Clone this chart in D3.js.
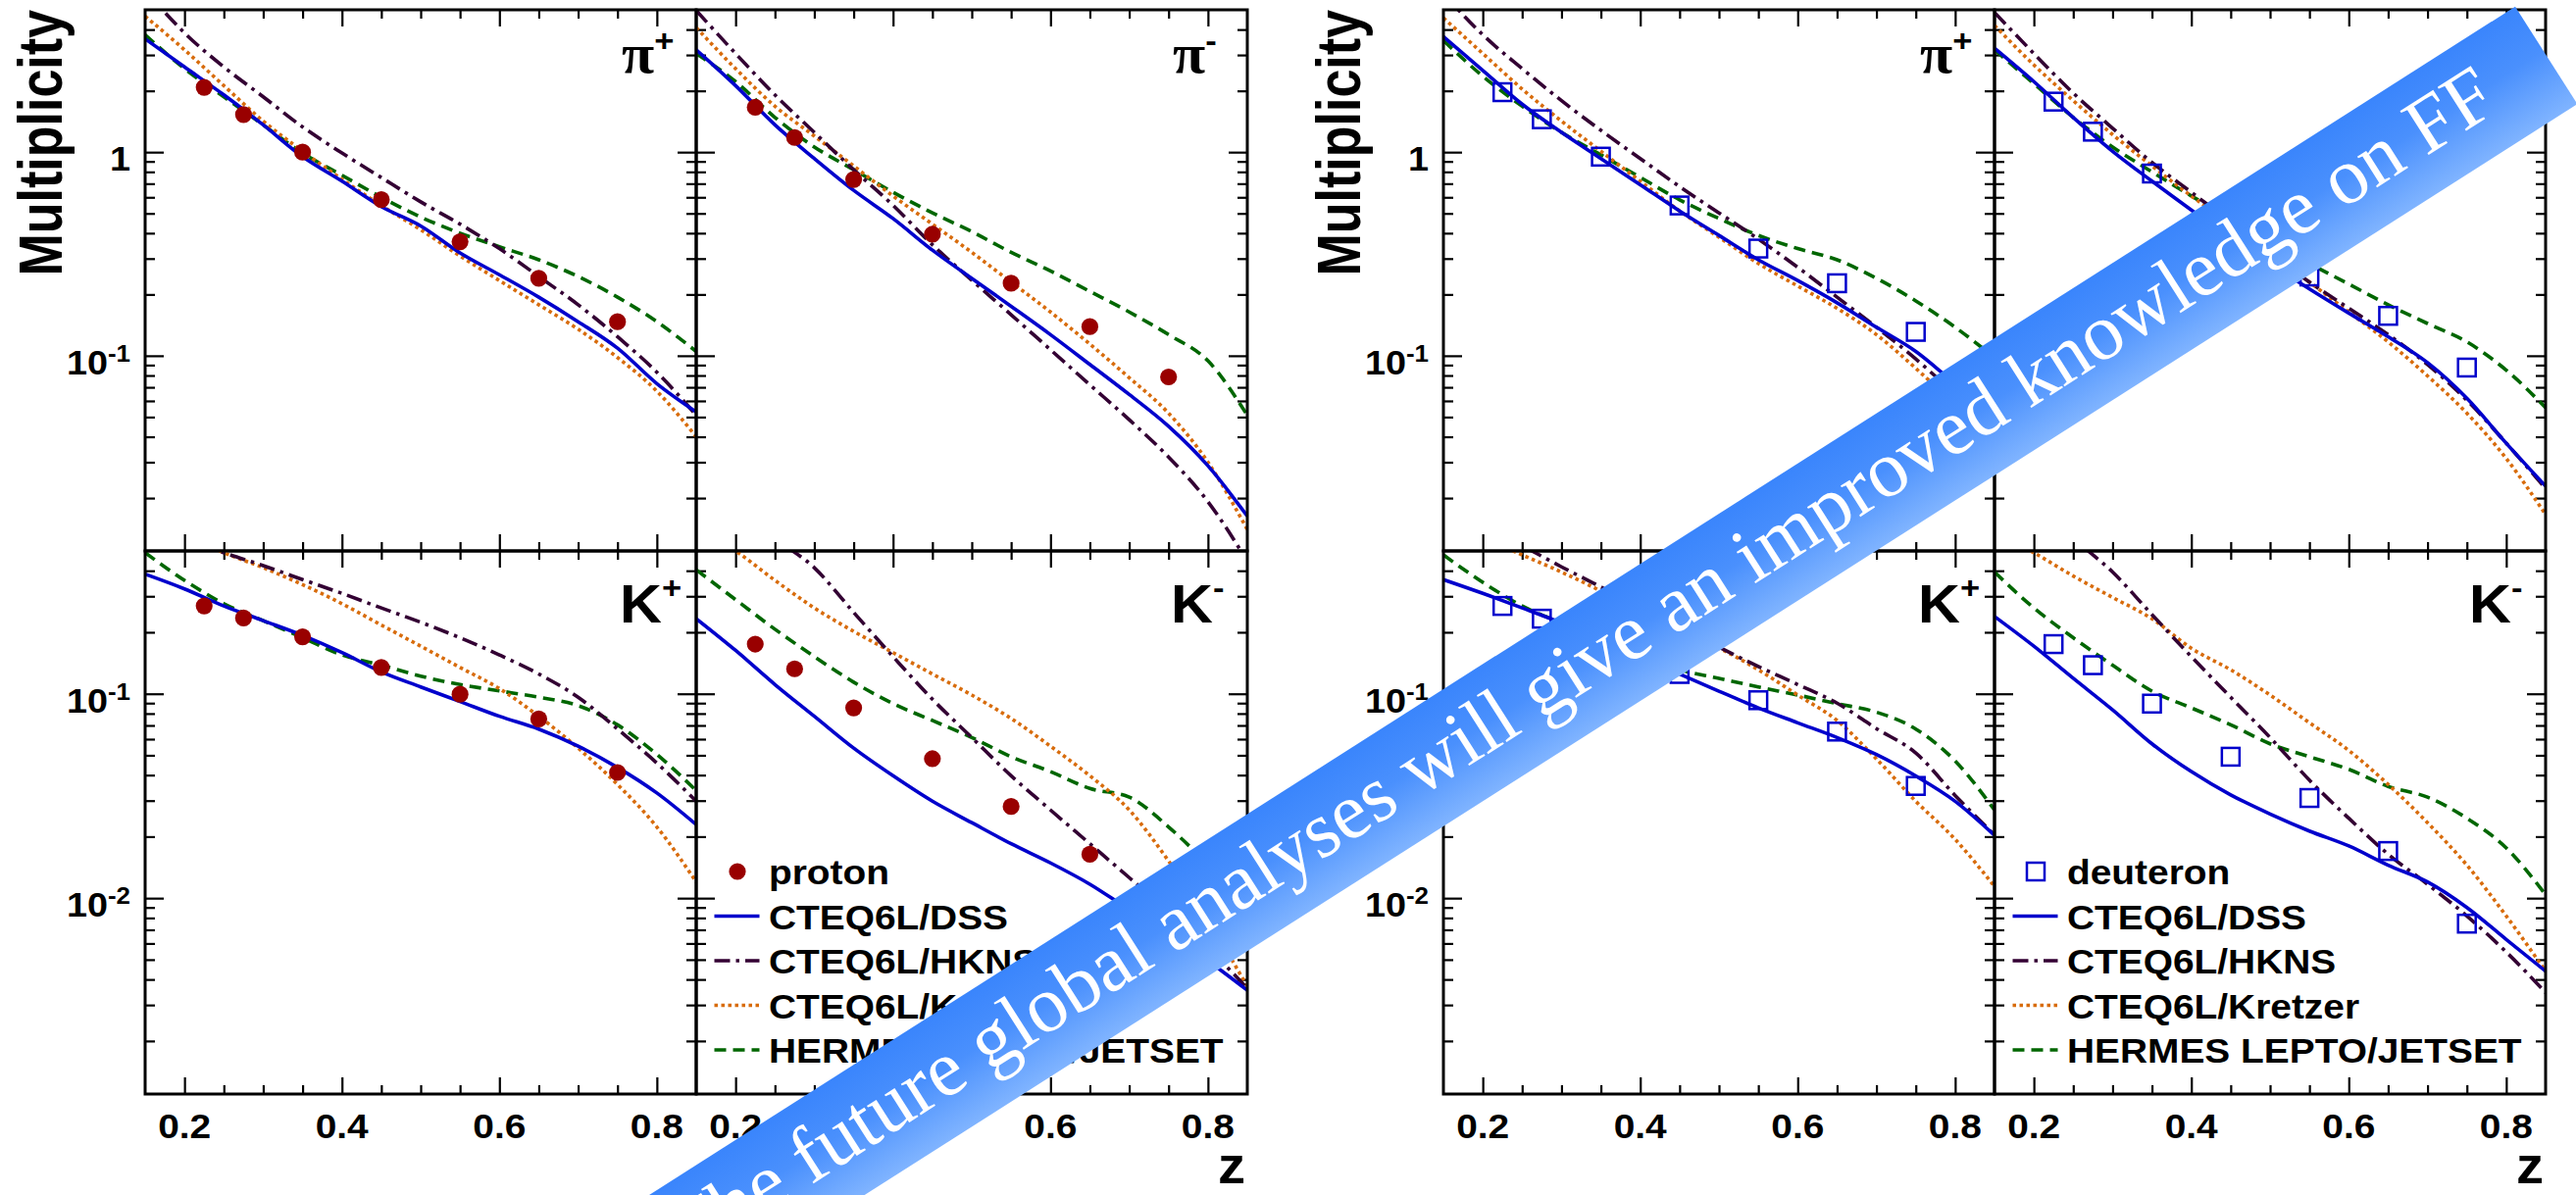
<!DOCTYPE html>
<meta charset="utf-8">
<style>
    body { margin: 0; background: #fff; }
    svg { display: block; }
    text {
        font-family: "Liberation Sans", Arial, sans-serif;
        font-weight: bold;
        fill: #000;
    }
    .axis path.domain { display: none; }
    .axis line { stroke: #000; stroke-width: 2.2; }
    .frame { fill: none; stroke: #000; stroke-width: 3; }
</style>

<svg width="2627" height="1219"></svg>

<script src="https://cdn.jsdelivr.net/npm/d3@7"></script>
<script>

    // DATA

    var zGrid = [0.15, 0.2, 0.25, 0.3, 0.35, 0.4, 0.45, 0.5, 0.55, 0.6, 0.65, 0.7, 0.75, 0.8, 0.85];
    var zBins = [0.225, 0.275, 0.35, 0.45, 0.55, 0.65, 0.75];

    var xMajorTicks = [0.2, 0.4, 0.6, 0.8];
    var xMinorTicks = [0.25, 0.3, 0.35, 0.45, 0.5, 0.55, 0.65, 0.7, 0.75];
    var xTickLabels = ["0.2", "0.4", "0.6", "0.8"];

    var legendNames = ["CTEQ6L/DSS", "CTEQ6L/HKNS", "CTEQ6L/Kretzer", "HERMES LEPTO/JETSET"];

    // proton, pi+
    var pPiPlus        = [2.08, 1.53, 1.0, 0.584, 0.363, 0.24, 0.147];
    var dssPPiPlus     = [3.6, 2.62, 1.91, 1.36, 0.95, 0.72, 0.54, 0.434, 0.32, 0.25, 0.194, 0.147, 0.109, 0.073, 0.053];
    var hknsPPiPlus    = [6.25, 3.85, 2.62, 1.87, 1.33, 0.99, 0.75, 0.57, 0.443, 0.336, 0.245, 0.178, 0.124, 0.083, 0.051];
    var kretzerPPiPlus = [4.65, 3.18, 2.12, 1.42, 1.01, 0.736, 0.547, 0.416, 0.309, 0.234, 0.178, 0.135, 0.098, 0.067, 0.040];
    var hermesPPiPlus  = [3.77, 2.57, 1.87, 1.36, 0.99, 0.77, 0.60, 0.48, 0.40, 0.343, 0.296, 0.245, 0.194, 0.147, 0.105];

    // proton, pi-
    var pPiMinus        = [1.66, 1.18, 0.734, 0.395, 0.227, 0.139, 0.0787];
    var dssPPiMinus     = [3.18, 2.12, 1.36, 0.93, 0.649, 0.472, 0.33, 0.24, 0.175, 0.127, 0.0906, 0.0645, 0.045, 0.0288, 0.0163];
    var hknsPPiMinus    = [4.96, 3.05, 1.91, 1.25, 0.82, 0.548, 0.351, 0.235, 0.159, 0.107, 0.072, 0.0485, 0.0318, 0.0192, 0.0098];
    var kretzerPPiMinus = [4.09, 2.57, 1.68, 1.2, 0.855, 0.609, 0.443, 0.322, 0.23, 0.164, 0.114, 0.078, 0.0522, 0.030, 0.014];
    var hermesPPiMinus  = [3.05, 2.22, 1.48, 1.06, 0.82, 0.635, 0.503, 0.407, 0.322, 0.261, 0.207, 0.164, 0.127, 0.0944, 0.051];

    // proton, K+
    var pKPlus        = [0.269, 0.235, 0.19, 0.1345, 0.0995, 0.0753, 0.0412];
    var dssPKPlus     = [0.385, 0.326, 0.269, 0.228, 0.193, 0.159, 0.128, 0.108, 0.0916, 0.0776, 0.0672, 0.0554, 0.0436, 0.0327, 0.0229];
    var hknsPKPlus    = [0.72, 0.58, 0.49, 0.424, 0.362, 0.31, 0.263, 0.224, 0.188, 0.155, 0.125, 0.0962, 0.0672, 0.0458, 0.0298];
    var kretzerPKPlus = [0.75, 0.6, 0.49, 0.414, 0.342, 0.276, 0.217, 0.171, 0.1345, 0.106, 0.0776, 0.0542, 0.036, 0.0223, 0.012];
    var hermesPKPlus  = [0.49, 0.359, 0.276, 0.228, 0.188, 0.155, 0.138, 0.122, 0.111, 0.1033, 0.0962, 0.0875, 0.0705, 0.0505, 0.0336];

    // proton, K-
    var pKMinus        = [0.175, 0.1325, 0.0853, 0.0481, 0.0281, 0.0164, 0.0097];
    var dssPKMinus     = [0.233, 0.163, 0.111, 0.0776, 0.0542, 0.0397, 0.0298, 0.0234, 0.01845, 0.01487, 0.0117, 0.00879, 0.00675, 0.00494, 0.00354];
    var hknsPKMinus    = [1.3, 0.9, 0.58, 0.414, 0.25, 0.152, 0.094, 0.0611, 0.0397, 0.027, 0.01845, 0.0126, 0.00857, 0.00571, 0.00362];
    var kretzerPKMinus = [0.65, 0.5, 0.359, 0.263, 0.202, 0.159, 0.125, 0.0986, 0.0757, 0.0554, 0.0397, 0.027, 0.0152, 0.0078, 0.0037];
    var hermesPKMinus  = [0.404, 0.289, 0.207, 0.152, 0.114, 0.0895, 0.074, 0.0611, 0.0492, 0.0416, 0.0344, 0.0312, 0.0223, 0.0145, 0.0086];

    // deuteron, pi+
    var dPiPlus        = [1.97, 1.45, 0.95, 0.547, 0.336, 0.227, 0.131];
    var dssDPiPlus     = [3.69, 2.52, 1.72, 1.25, 0.93, 0.692, 0.514, 0.39, 0.296, 0.234, 0.182, 0.138, 0.105, 0.073, 0.052];
    var hknsDPiPlus    = [6.0, 3.77, 2.57, 1.79, 1.28, 0.93, 0.677, 0.503, 0.374, 0.272, 0.194, 0.138, 0.0964, 0.0645, 0.042];
    var kretzerDPiPlus = [4.56, 3.05, 2.04, 1.42, 1.01, 0.72, 0.514, 0.382, 0.284, 0.22, 0.171, 0.127, 0.0867, 0.0568, 0.034];
    var hermesDPiPlus  = [3.53, 2.36, 1.68, 1.25, 0.97, 0.752, 0.583, 0.472, 0.39, 0.336, 0.296, 0.24, 0.186, 0.138, 0.098];

    // deuteron, pi-
    var dPiMinus        = [1.77, 1.26, 0.785, 0.43, 0.245, 0.157, 0.0875];
    var dssDPiMinus     = [3.24, 2.22, 1.48, 1.01, 0.72, 0.52, 0.38, 0.283, 0.213, 0.162, 0.124, 0.0925, 0.0618, 0.0372, 0.0229];
    var hknsDPiMinus    = [4.85, 3.05, 1.95, 1.31, 0.89, 0.635, 0.453, 0.322, 0.23, 0.171, 0.127, 0.0906, 0.0605, 0.0372, 0.0223];
    var kretzerDPiMinus = [4.19, 2.68, 1.79, 1.22, 0.855, 0.609, 0.443, 0.322, 0.23, 0.164, 0.117, 0.0796, 0.0522, 0.0313, 0.0166];
    var hermesDPiMinus  = [3.18, 2.17, 1.48, 1.06, 0.80, 0.609, 0.472, 0.366, 0.284, 0.225, 0.178, 0.144, 0.117, 0.085, 0.0556];

    // deuteron, K+
    var dKPlus        = [0.269, 0.233, 0.18, 0.125, 0.093, 0.0653, 0.0354];
    var dssDKPlus     = [0.362, 0.31, 0.263, 0.222, 0.184, 0.152, 0.125, 0.103, 0.0853, 0.0721, 0.0611, 0.0504, 0.0396, 0.0298, 0.0203];
    var hknsDKPlus    = [0.8, 0.66, 0.53, 0.418, 0.333, 0.266, 0.212, 0.169, 0.136, 0.111, 0.09, 0.0676, 0.0513, 0.0318, 0.0204];
    var kretzerDKPlus = [0.7, 0.58, 0.478, 0.394, 0.318, 0.25, 0.197, 0.167, 0.131, 0.0986, 0.074, 0.048, 0.0298, 0.0194, 0.0114];
    var hermesDKPlus  = [0.478, 0.351, 0.269, 0.222, 0.184, 0.152, 0.131, 0.119, 0.108, 0.0986, 0.0895, 0.0813, 0.0672, 0.0469, 0.027];

    // deuteron, K-
    var dKMinus        = [0.175, 0.138, 0.0895, 0.0492, 0.0309, 0.017, 0.0075];
    var dssDKMinus     = [0.239, 0.171, 0.119, 0.0834, 0.0569, 0.0416, 0.032, 0.0258, 0.0213, 0.018, 0.0145, 0.012, 0.009, 0.00628, 0.00439];
    var hknsDKMinus    = [1.3, 0.9, 0.578, 0.394, 0.244, 0.152, 0.0962, 0.0611, 0.0378, 0.0246, 0.0164, 0.0117, 0.00818, 0.00545, 0.00345];
    var kretzerDKMinus = [0.62, 0.49, 0.377, 0.296, 0.233, 0.167, 0.131, 0.0986, 0.0721, 0.0528, 0.036, 0.0234, 0.0145, 0.00818, 0.00439];
    var hermesDKMinus  = [0.394, 0.263, 0.188, 0.138, 0.103, 0.0853, 0.0705, 0.0569, 0.0492, 0.0427, 0.0352, 0.0312, 0.0246, 0.0176, 0.0104];

    // SETUP

    var svg = d3.select("svg"),
        defs = svg.append("defs"),
        SX = 1.08,                      // the source figure is a bit stretched horizontally
        panelW = 562,
        groupLeft = [148, 1472],
        rowTop = [10, 562],
        rowH = [552, 554],
        rowDomain = [[0.011, 5], [0.0011, 0.5]];

    var styles = [
        { color: "#0000cc", dash: null },          // DSS
        { color: "#330033", dash: "16,6,3.5,6" },  // HKNS
        { color: "#d86c0c", dash: "3.5,3.5" },     // Kretzer
        { color: "#006600", dash: "12,7" }         // HERMES
    ];

    var groups = [
        { name: "proton", marker: "circle", panels: [
            { label: "\u03c0", sign: "+", data: pPiPlus,  curves: [dssPPiPlus, hknsPPiPlus, kretzerPPiPlus, hermesPPiPlus] },
            { label: "\u03c0", sign: "-", data: pPiMinus, curves: [dssPPiMinus, hknsPPiMinus, kretzerPPiMinus, hermesPPiMinus] },
            { label: "K", sign: "+", data: pKPlus,  curves: [dssPKPlus, hknsPKPlus, kretzerPKPlus, hermesPKPlus] },
            { label: "K", sign: "-", data: pKMinus, curves: [dssPKMinus, hknsPKMinus, kretzerPKMinus, hermesPKMinus] }
        ]},
        { name: "deuteron", marker: "square", panels: [
            { label: "\u03c0", sign: "+", data: dPiPlus,  curves: [dssDPiPlus, hknsDPiPlus, kretzerDPiPlus, hermesDPiPlus] },
            { label: "\u03c0", sign: "-", data: dPiMinus, curves: [dssDPiMinus, hknsDPiMinus, kretzerDPiMinus, hermesDPiMinus] },
            { label: "K", sign: "+", data: dKPlus,  curves: [dssDKPlus, hknsDKPlus, kretzerDKPlus, hermesDKPlus] },
            { label: "K", sign: "-", data: dKMinus, curves: [dssDKMinus, hknsDKMinus, kretzerDKMinus, hermesDKMinus] }
        ]}
    ];

    function stretched(sel, x, y) {
        return sel.attr("transform", "translate(" + x + "," + y + ") scale(" + SX + ",1)");
    }

    function minorLogTicks(domain) {
        var out = [];
        [0.001, 0.01, 0.1, 1].forEach(function (d) {
            for (var k = 2; k <= 9; k++) {
                var v = k * d;
                if (v > domain[0] && v < domain[1]) out.push(v);
            }
        });
        return out;
    }

    function drawMarker(sel, kind, cx, cy) {
        if (kind === "circle") {
            sel.append("circle").attr("cx", cx).attr("cy", cy).attr("r", 8.6).attr("fill", "#990000");
        } else {
            sel.append("rect").attr("x", cx - 9).attr("y", cy - 9).attr("width", 18).attr("height", 18)
                .attr("fill", "none").attr("stroke", "#0000cc").attr("stroke-width", 2.5);
        }
    }

    // DRAWING

    function drawPanel(gi, group, pi) {
        var p = group.panels[pi],
            row = Math.floor(pi / 2), col = pi % 2,
            x0 = groupLeft[gi] + col * panelW,
            y0 = rowTop[row],
            h = rowH[row],
            id = "clip" + gi + pi;

        var x = d3.scaleLinear().domain([0.15, 0.85]).range([x0, x0 + panelW]);
        var y = d3.scaleLog().domain(rowDomain[row]).range([y0 + h, y0]);

        defs.append("clipPath").attr("id", id)
            .append("rect").attr("x", x0).attr("y", y0).attr("width", panelW).attr("height", h);

        var g = svg.append("g");

        // ticks on all four sides, pointing inwards
        var yMajor = [1, 0.1, 0.01].filter(function (v) { return v > rowDomain[row][0] && v < rowDomain[row][1]; });
        var yMinor = minorLogTicks(rowDomain[row]);

        [[d3.axisLeft, x0], [d3.axisRight, x0 + panelW]].forEach(function (a) {
            g.append("g").attr("class", "axis").attr("transform", "translate(" + a[1] + ",0)")
                .call(a[0](y).tickValues(yMajor).tickSize(-19).tickFormat(""));
            g.append("g").attr("class", "axis").attr("transform", "translate(" + a[1] + ",0)")
                .call(a[0](y).tickValues(yMinor).tickSize(-10).tickFormat(""));
        });
        [[d3.axisTop, y0], [d3.axisBottom, y0 + h]].forEach(function (a) {
            g.append("g").attr("class", "axis").attr("transform", "translate(0," + a[1] + ")")
                .call(a[0](x).tickValues(xMajorTicks).tickSize(-17).tickFormat(""));
            g.append("g").attr("class", "axis").attr("transform", "translate(0," + a[1] + ")")
                .call(a[0](x).tickValues(xMinorTicks).tickSize(-9).tickFormat(""));
        });

        // curves, back to front
        var plot = g.append("g").attr("clip-path", "url(#" + id + ")");
        var line = d3.line()
            .x(function (d) { return x(d[0]); })
            .y(function (d) { return y(d[1]); })
            .curve(d3.curveMonotoneX);

        [3, 2, 1, 0].forEach(function (k) {
            plot.append("path")
                .datum(d3.zip(zGrid, p.curves[k]))
                .attr("d", line)
                .attr("fill", "none")
                .attr("stroke", styles[k].color)
                .attr("stroke-width", 3.6)
                .attr("stroke-dasharray", styles[k].dash);
        });

        p.data.forEach(function (v, i) {
            drawMarker(plot, group.marker, x(zBins[i]), y(v));
        });

        g.append("rect").attr("class", "frame")
            .attr("x", x0).attr("y", y0).attr("width", panelW).attr("height", h);

        // panel label
        var isPi = p.label === "\u03c0";
        var lab = stretched(g.append("text"), x0 + panelW - (isPi ? 76 : 78), y0 + (isPi ? 64 : 73));
        lab.append("tspan").text(p.label)
            .style("font-size", isPi ? "56px" : "55px")
            .style("font-family", isPi ? "'Liberation Serif', serif" : null);
        lab.append("tspan").text(p.sign)
            .attr("dy", isPi ? -22 : -25)
            .style("font-size", "32px");

        // y tick labels on the left column only
        if (col === 0) {
            yMajor.forEach(function (v) {
                var t = stretched(g.append("text"), x0 - 15, y(v) + 19)
                    .attr("text-anchor", "end").style("font-size", "35px");
                if (v === 1) {
                    t.text("1");
                } else {
                    t.append("tspan").text("10");
                    t.append("tspan").attr("dy", -13).style("font-size", "24px").text(Math.round(Math.log10(v)));
                }
            });
        }

        // x tick labels on the bottom row
        if (row === 1) {
            xMajorTicks.forEach(function (v, i) {
                stretched(g.append("text"), x(v), y0 + h + 45)
                    .attr("text-anchor", "middle").style("font-size", "36px").text(xTickLabels[i]);
            });
        }

        // legend sits in the K- panel
        if (pi === 3) {
            var rows = [group.name].concat(legendNames);
            rows.forEach(function (name, i) {
                var cy = y0 + h - 227 + i * 45.5;
                if (i === 0) {
                    drawMarker(g, group.marker, x0 + 42, cy);
                } else {
                    var s = styles[i - 1];
                    g.append("line")
                        .attr("x1", x0 + 18.5).attr("x2", x0 + 64.5)
                        .attr("y1", cy).attr("y2", cy)
                        .attr("stroke", s.color).attr("stroke-width", 3.6)
                        .attr("stroke-dasharray", s.dash);
                }
                stretched(g.append("text"), x0 + 74, cy + 13).style("font-size", "36px").text(name);
            });
        }
    }

    groups.forEach(function (group, gi) {
        group.panels.forEach(function (p, pi) { drawPanel(gi, group, pi); });

        svg.append("text")
            .attr("transform", "translate(" + (groupLeft[gi] - 85) + ",10) scale(1.22,1) rotate(-90)")
            .attr("text-anchor", "end").style("font-size", "52px").text("Multiplicity");

        stretched(svg.append("text"), groupLeft[gi] + 2 * panelW - 2, 1207)
            .attr("text-anchor", "end").style("font-size", "52px").text("z");
    });

    // BANNER

    var grad = defs.append("linearGradient").attr("id", "bannerFill")
        .attr("gradientUnits", "userSpaceOnUse")
        .attr("x1", 0).attr("y1", 0).attr("x2", 0).attr("y2", 118);
    grad.append("stop").attr("offset", 0).attr("stop-color", "#3a85fc");
    grad.append("stop").attr("offset", 0.45).attr("stop-color", "#4a90fd");
    grad.append("stop").attr("offset", 1).attr("stop-color", "#80b4ff");

    var banner = svg.append("g").attr("transform", "translate(2565,6.7) rotate(-32.5)");
    banner.append("rect")
        .attr("x", -3200).attr("y", 0).attr("width", 3200).attr("height", 118)
        .attr("fill", "url(#bannerFill)");
    banner.append("text")
        .attr("x", -68).attr("y", 80)
        .attr("text-anchor", "end")
        .style("font-family", "'Liberation Serif', 'Times New Roman', serif")
        .style("font-weight", "normal")
        .style("font-size", "81.5px")
        .style("fill", "#fff")
        .text("The future global analyses will give an improved knowledge on FF");

</script>
